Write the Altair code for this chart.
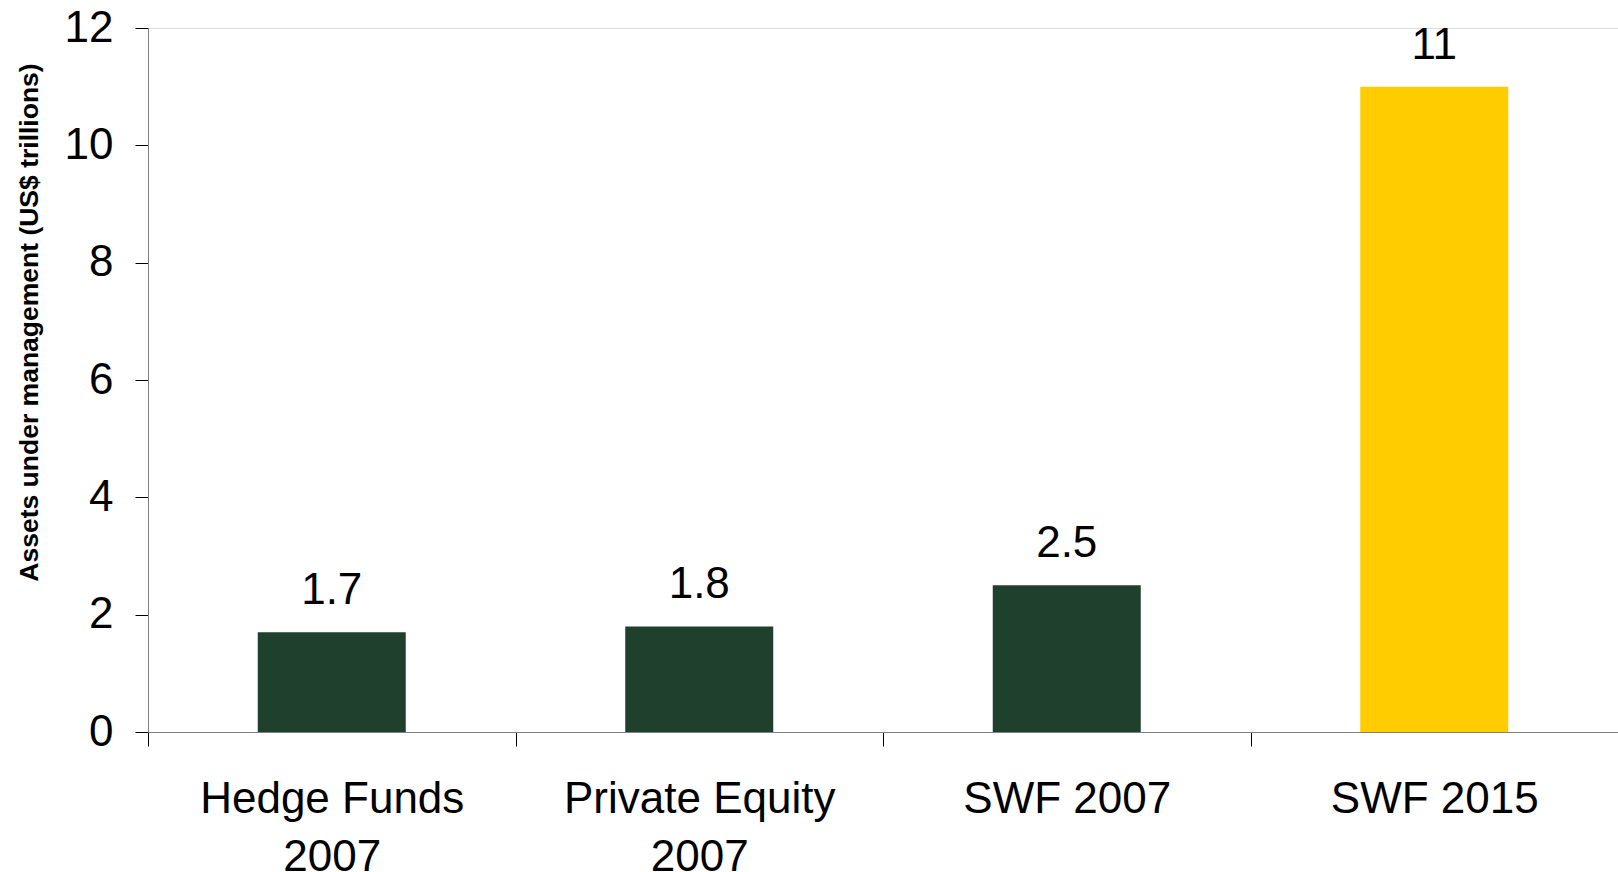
import altair as alt
import pandas as pd

categories = ["Hedge Funds|2007", "Private Equity|2007", "SWF 2007", "SWF 2015"]
values = [1.7, 1.8, 2.5, 11]
labels = ["1.7", "1.8", "2.5", "11"]

bar_colors = ["#1f402d", "#1f402d", "#1f402d", "#ffcc00"]

df = pd.DataFrame({"cat": categories, "value": values, "label": labels})

FONT = "Liberation Sans"

x = alt.X(
    "cat:N",
    sort=categories,
    title=None,
    scale=alt.Scale(paddingInner=0, paddingOuter=0),
    axis=alt.Axis(
        labelAngle=0,
        labelExpr="split(datum.label, '|')",
        labelFont=FONT,
        labelFontSize=44,
        labelColor="#000000",
        labelLineHeight=58,
        labelBaseline="top",
        labelPadding=31,
        tickBand="extent",
        tickSize=14,
        tickColor="#000000",
        domainColor="#808080",
        labelLimit=0,
    ),
)

y_scale = alt.Scale(domain=[0, 12], nice=False)

bars = alt.Chart(df).mark_bar(size=148).encode(
    x=x,
    y=alt.Y(
        "value:Q",
        scale=y_scale,
        title="Assets under management (US$ trillions)",
        axis=alt.Axis(
            values=[0, 2, 4, 6, 8, 10, 12],
            format="d",
            grid=False,
            labelFont=FONT,
            labelFontSize=44,
            labelColor="#000000",
            labelPadding=22,
            tickSize=13,
            tickColor="#000000",
            domainColor="#808080",
            titleFont=FONT,
            titleFontSize=26.5,
            titleFontWeight="bold",
            titleColor="#000000",
            titleAngle=-90,
            titleAlign="center",
            titleBaseline="alphabetic",
            titleX=-111,
            titleY=294,
        ),
    ),
    color=alt.Color(
        "cat:N",
        scale=alt.Scale(domain=categories, range=bar_colors),
        legend=None,
    ),
)

text = alt.Chart(df).mark_text(
    font=FONT, fontSize=44, color="#000000", baseline="alphabetic", dy=-28
).encode(
    x=alt.X("cat:N", sort=categories),
    y=alt.Y("value:Q", scale=y_scale),
    text="label:N",
)

chart = (
    alt.layer(bars, text)
    .properties(
        width=1470,
        height=704,
        autosize=alt.AutoSizeParams(type="none"),
        padding={"left": 148, "top": 28, "right": 0, "bottom": 140},
    )
    .configure_view(stroke=None)
    .configure(background="#ffffff")
)

chart.save("out.html", embed_options={"renderer": "svg", "actions": False})
